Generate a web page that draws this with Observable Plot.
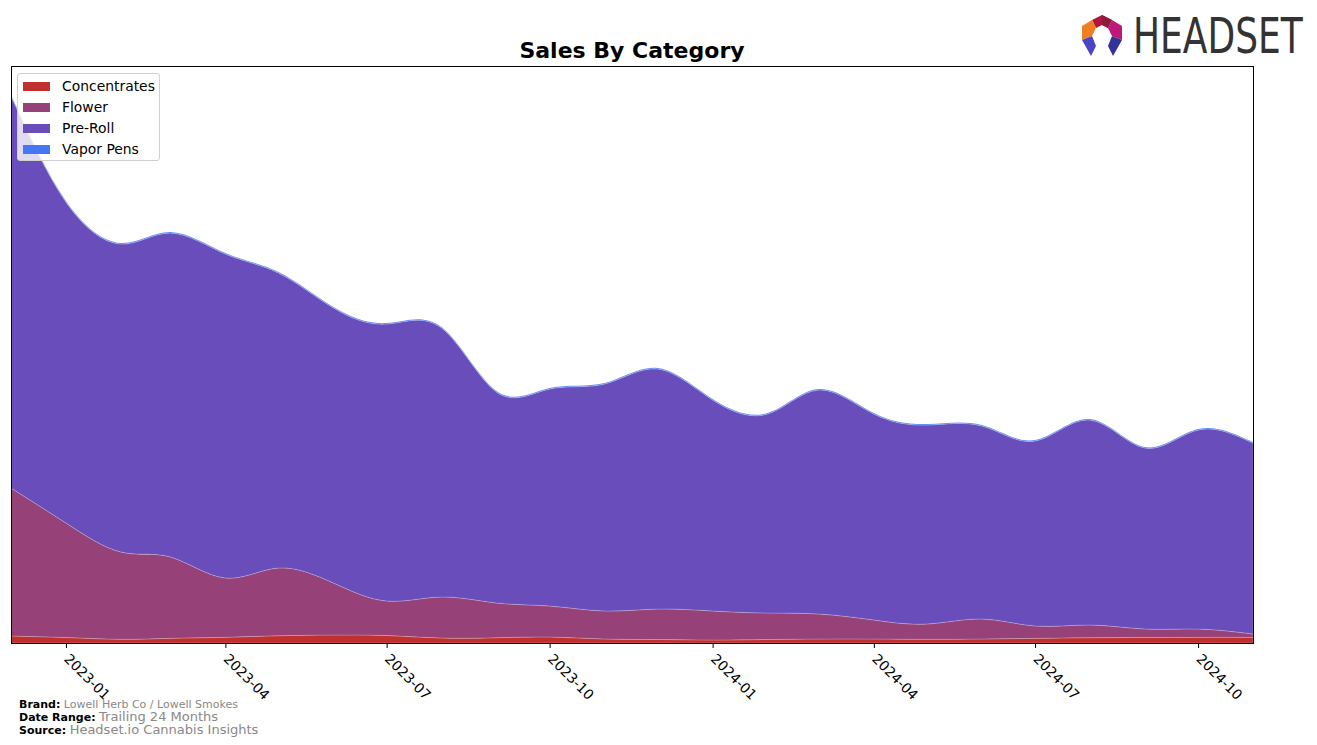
<!DOCTYPE html>
<html>
<head>
<meta charset="utf-8">
<script src="https://cdn.jsdelivr.net/npm/d3@7"></script>
<script src="https://cdn.jsdelivr.net/npm/@observablehq/plot@0.6"></script>
<style>
  html, body { margin: 0; padding: 0; background: #fff; }
  #wrap { position: relative; width: 1317px; height: 745px; font-family: "DejaVu Sans", sans-serif; overflow: hidden; }
  #title { position: absolute; left: 11px; width: 1242px; top: 38px; text-align: center; font-weight: bold; font-size: 22px; line-height: 26px; color: #000; }
  #legend { position: absolute; left: 17px; top: 73px; width: 141px; height: 86px; background: rgba(255,255,255,0.8); border: 1px solid #d0d0d0; border-radius: 3px; font-size: 13.9px; }
  .li { position: absolute; left: 5px; height: 20px; display: flex; align-items: center; }
  .sw { width: 27px; height: 9px; margin-right: 12px; }
  #foot { position: absolute; left: 19px; top: 699px; font-size: 11px; line-height: 12px; }
  #foot b { color: #000; }
  #foot span { color: #888; }
  #logo { position: absolute; left: 1078px; top: 12px; }
  #logotext { position: absolute; left: 1133px; top: 11px; font-size: 50px; line-height: 50px; color: #333; white-space: nowrap; transform: scaleX(0.72); transform-origin: 0 0; }
</style>
</head>
<body>
<div id="wrap">
  <div id="chart"></div>
  <div id="title">Sales By Category</div>
  <div id="legend"></div>
  <div id="foot">
    <div><b>Brand:</b> <span>Lowell Herb Co / Lowell Smokes</span></div>
    <div><b>Date Range:</b> <span style="font-size:13px">Trailing 24 Months</span></div>
    <div><b>Source:</b> <span style="font-size:13px">Headset.io Cannabis Insights</span></div>
  </div>
  <svg id="logo" width="50" height="52" viewBox="0 0 50 52">
    <polygon points="14,8 24,3 34,8 30,16 24,13 18,16" fill="#b0163a"/>
    <polygon points="24,3 34,8 30,16 24,13" fill="#8e1a3c"/>
    <polygon points="4,14 14,8 18,16 14,24 4,28" fill="#f07f22"/>
    <polygon points="34,8 44,14 44,28 34,24 30,16" fill="#c0187a"/>
    <polygon points="4,28 14,24 18,34 13,44" fill="#4a45c4"/>
    <polygon points="44,28 34,24 30,34 35,44" fill="#33319a"/>
  </svg>
  <div id="logotext">HEADSET</div>
</div>
<script>
const categories = ["Concentrates", "Flower", "Pre-Roll", "Vapor Pens"];
const colors = ["#c0302f", "#964177", "#694ebb", "#4577f5"];
const months = ["2022-12","2023-01","2023-02","2023-03","2023-04","2023-05","2023-06","2023-07","2023-08","2023-09","2023-10","2023-11","2023-12","2024-01","2024-02","2024-03","2024-04","2024-05","2024-06","2024-07","2024-08","2024-09","2024-10","2024-11"];
const concentrates = [7,5.5,3.7,4.7,5.7,7.3,8,7.5,5,5.3,6,4,3.5,3,3.5,4,4,3.7,4,4.7,5.3,5.5,5.7,5.7];
const flower = [148,114.5,87.3,81.3,59.3,67.7,52,34.5,41,34.7,31,28,30.5,29,26.5,25,19,15.3,20,12.3,12.7,8.5,8.3,3.3];
const preRoll = [392,321,308,324,324,295,275,277,269,211,217,227,240,211,199,224,206,199,193,185,205,181,199,191];
const vaporPens = [1,1,1,1,1,1,1,1,1,1,1,1,1,1,1,1,1,1,1,1,1,1,1,1];
const tickDates = ["2023-01","2023-04","2023-07","2023-10","2024-01","2024-04","2024-07","2024-10"];

const series = [concentrates, flower, preRoll, vaporPens];
const data = [];
categories.forEach((c, i) => {
  months.forEach((m, j) => data.push({date: new Date(m + "-01T00:00:00Z"), category: c, value: series[i][j]}));
});
const maxTotal = d3.max(months.map((m, j) => series.reduce((s, a) => s + a[j], 0)));

const chart = Plot.plot({
  width: 1317,
  height: 745,
  marginLeft: 11,
  marginRight: 64,
  marginTop: 66,
  marginBottom: 102,
  style: {fontFamily: "'DejaVu Sans', sans-serif", fontSize: "13.9px", color: "#000", background: "transparent"},
  x: {type: "utc", domain: [new Date("2022-12-01T00:00:00Z"), new Date("2024-11-01T00:00:00Z")]},
  y: {domain: [0, maxTotal * 1.053], axis: null},
  color: {domain: categories, range: colors},
  marks: [
    Plot.areaY(data, {x: "date", y: "value", fill: "category", z: "category", curve: "natural", order: categories, stroke: "white", strokeOpacity: 0.25, strokeWidth: 0.8}),
    Plot.axisX(tickDates.map(t => new Date(t + "-01T00:00:00Z")), {tickSize: 5, tickFormat: d3.utcFormat("%Y-%m"), tickRotate: 45, tickPadding: 8, fontSize: 13.9, label: null, stroke: "black"}),
    Plot.frame({stroke: "black", strokeWidth: 1})
  ]
});
document.getElementById("chart").appendChild(chart);

const lg = document.getElementById("legend");
categories.forEach((c, i) => {
  const row = document.createElement("div");
  row.className = "li";
  row.style.top = (2 + i * 21) + "px";
  row.innerHTML = `<div class="sw" style="background:${colors[i]}"></div><div>${c}</div>`;
  lg.appendChild(row);
});
</script>
</body>
</html>
